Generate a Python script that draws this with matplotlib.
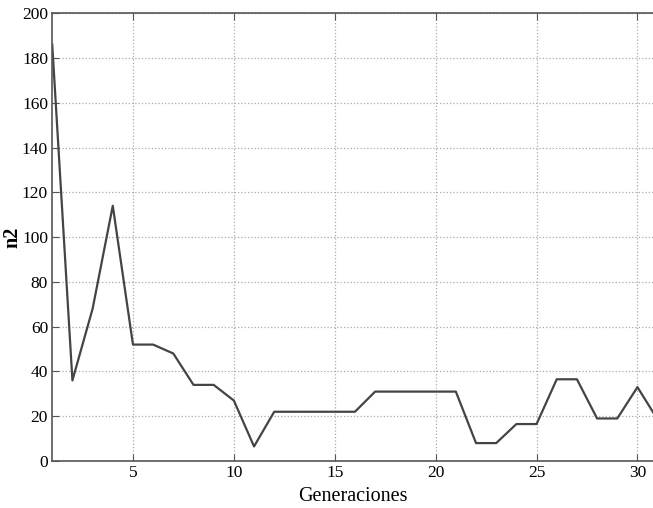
import numpy as np
import matplotlib.pyplot as plt

plt.rcParams['font.family'] = ['Liberation Serif', 'DejaVu Serif']

# data
generaciones = list(range(1, 32))
n2 = [186, 36, 68, 114, 52, 52, 48, 34, 34, 27,
      6.5, 22, 22, 22, 22, 22, 31, 31, 31, 31,
      31, 8, 8, 16.5, 16.5, 36.5, 36.5, 19, 19, 33,
      18.5]

fig = plt.figure(figsize=(6.53, 5.08), dpi=100)
ax = fig.add_axes([0.080, 0.0925, 0.920, 0.8815])

ax.plot(generaciones, n2, color='#444444', linewidth=1.6)

ax.set_xlim(1, 30.77)
ax.set_ylim(0, 200)
ax.set_xticks([5, 10, 15, 20, 25, 30])
ax.set_yticks(np.arange(0, 201, 20))
ax.tick_params(direction='in', top=True, right=False, labelsize=12.5,
               length=5, color='#555555', pad=3)
ax.grid(True, linestyle=':', color='#aaaaaa', linewidth=0.9)
ax.spines['right'].set_visible(False)
for s in ['left', 'bottom', 'top']:
    ax.spines[s].set_color('#555555')
    ax.spines[s].set_linewidth(1.2)

ax.set_xlabel('Generaciones', fontsize=14.5, labelpad=4)
ax.set_ylabel('n2', fontsize=14.5, fontweight='bold', labelpad=0)

fig.savefig('out.png', dpi=100)
